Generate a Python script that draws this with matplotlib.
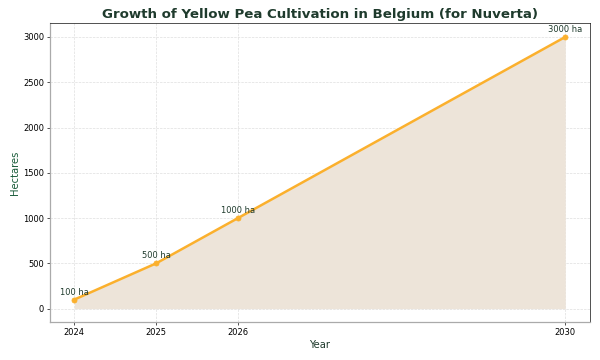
import matplotlib
matplotlib.use("Agg")
import matplotlib.pyplot as plt

years = [2024, 2025, 2026, 2030]
hectares = [100, 500, 1000, 3000]
labels = [f"{h} ha" for h in hectares]

fig, ax = plt.subplots(figsize=(10, 6), dpi=60)
ax.fill_between(years, hectares, color="#ede4d9", lw=0)
ax.plot(years, hectares, color="#fbb02d", lw=3, marker="o", markersize=6)

for x, y, t in zip(years, hectares, labels):
    ax.annotate(t, (x, y), textcoords="offset points", xytext=(0, 6),
                ha="center", fontsize=10, color="#1f3b2d")

ax.set_title("Growth of Yellow Pea Cultivation in Belgium (for Nuverta)",
             fontsize=16, fontweight="bold", color="#1f3b2d")
ax.set_xlabel("Year", fontsize=12, color="#1f3b2d")
ax.set_ylabel("Hectares", fontsize=12, color="#1a5c3a")
ax.set_xticks(years)
ax.tick_params(labelsize=10)
ax.grid(True, linestyle="--", color="#dddddd", lw=0.8)
ax.set_axisbelow(True)
for s in ["left", "bottom"]:
    ax.spines[s].set_color("#aaaaaa")
    ax.spines[s].set_linewidth(1.5)

fig.subplots_adjust(left=0.083, right=0.983, top=0.935, bottom=0.105)
fig.savefig("out.png")
